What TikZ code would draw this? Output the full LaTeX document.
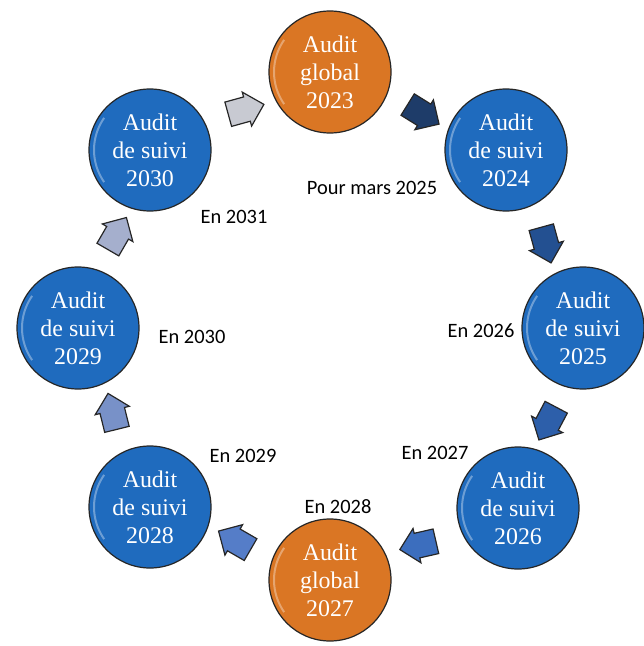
\documentclass[tikz,border=0pt]{standalone}
\usepackage{fontspec}
\setmainfont{Liberation Serif}
\newfontfamily\labfont{Carlito}
\usepackage{tikz}
\usetikzlibrary{shapes.arrows,calc}
\definecolor{suivi}{RGB}{31,107,190}
\definecolor{globalor}{RGB}{218,118,36}
\definecolor{arA}{RGB}{30,60,105}
\definecolor{arB}{RGB}{35,80,145}
\definecolor{arC}{RGB}{45,95,170}
\definecolor{arD}{RGB}{60,110,190}
\definecolor{arE}{RGB}{85,125,200}
\definecolor{arF}{RGB}{120,145,200}
\definecolor{arG}{RGB}{165,175,205}
\definecolor{arH}{RGB}{200,202,210}

\begin{document}
\begin{tikzpicture}[x=1bp, y=-1bp,
  audit/.style={circle, draw=black!85, line width=1.2bp, minimum size=122bp, inner sep=0pt,
    fill=#1, text=white, align=center, font=\fontsize{24}{28}\selectfont,
    path picture={\draw[white, opacity=.35, line width=2bp]
      ($(path picture bounding box.center)+(215:56bp)$) arc[start angle=215, end angle=145, radius=56bp];}},
  audit/.default=suivi,
  flow/.style={single arrow, draw=black!85, line width=1.2bp, fill=#1, minimum height=37bp,
    inner xsep=0pt, inner ysep=12bp, single arrow head extend=5bp, sloped, allow upside down, rotate=-8},
  lab/.style={font=\labfont\fontsize{20.5}{24}\selectfont}]
  \useasboundingbox (0,0) rectangle (644,646);
  % ring of audits
  \node[audit=globalor] (a2023) at (330,72) {Audit\\global\\2023};
  \node[audit] (s2024) at (506,150) {Audit\\de suivi\\2024};
  \node[audit] (s2025) at (583,328) {Audit\\de suivi\\2025};
  \node[audit] (s2026) at (518,508) {Audit\\de suivi\\2026};
  \node[audit=globalor] (a2027) at (330,580) {Audit\\global\\2027};
  \node[audit] (s2028) at (150,507) {Audit\\de suivi\\2028};
  \node[audit] (s2029) at (78,328) {Audit\\de suivi\\2029};
  \node[audit] (s2030) at (150,150) {Audit\\de suivi\\2030};
  % arrows between them
  \path (a2023) -- node[flow=arA] (f1) {} (s2024);
  \path (s2024) -- node[flow=arB] (f2) {} (s2025);
  \path (s2025) -- node[flow=arC] (f3) {} (s2026);
  \path (s2026) -- node[flow=arD] (f4) {} (a2027);
  \path (a2027) -- node[flow=arE] (f5) {} (s2028);
  \path (s2028) -- node[flow=arF] (f6) {} (s2029);
  \path (s2029) -- node[flow=arG] (f7) {} (s2030);
  \path (s2030) -- node[flow=arH] (f8) {} (a2023);
  % dates
  \node[lab] (d2024) at (372,188) {Pour mars 2025};
  \node[lab] (d2025) at (481,331) {En 2026};
  \node[lab] (d2026) at (435,453) {En 2027};
  \node[lab] (d2027) at (338,507) {En 2028};
  \node[lab] (d2028) at (243,456) {En 2029};
  \node[lab] (d2029) at (192,337) {En 2030};
  \node[lab] (d2030) at (234,217) {En 2031};
\end{tikzpicture}
\end{document}
